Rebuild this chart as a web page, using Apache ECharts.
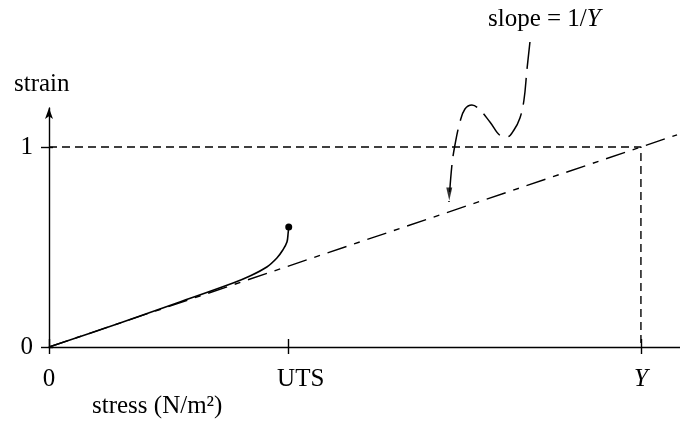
<!DOCTYPE html>
<html>
<head>
<meta charset="utf-8">
<script src="https://cdn.jsdelivr.net/npm/echarts@6/dist/echarts.min.js"></script>
<style>html,body{margin:0;padding:0;background:#fff}#c{width:680px;height:425px}</style>
</head>
<body>
<div id="c"></div>
<script>
// Tick positions (stress in units of Y, strain dimensionless)
const stressTickValues = [0, 0.405, 1];
const stressTickLabels = ['0', 'UTS', 'Y'];
const strainTickValues = [0, 1];
const strainTickLabels = ['0', '1'];

// Measured stress-strain curve (solid), ends at UTS point
const curveStress = [0, 0.12, 0.221, 0.311, 0.3395, 0.368, 0.385, 0.395, 0.402, 0.404, 0.405];
const curveStrain = [0, 0.12, 0.225, 0.32, 0.355, 0.40, 0.445, 0.485, 0.525, 0.57, 0.60];

// Linear elastic line, slope = 1/Y (dash-dot)
const elasticStress = [0, 1.061];
const elasticStrain = [0, 1.061];

// Reference dashed lines: strain = 1 up to stress = Y, then down to axis
const refStress = [0, 1, 1];
const refStrain = [1, 1, 0];

// Annotation leader path ("slope = 1/Y" -> elastic line)
const noteStress = [0.8125, 0.8074, 0.8024, 0.7956, 0.7855, 0.7736, 0.7635, 0.7449, 0.728, 0.7145, 0.7027, 0.6943, 0.6858, 0.6807, 0.6757];
const noteStrain = [1.525, 1.385, 1.235, 1.145, 1.085, 1.05, 1.055, 1.125, 1.185, 1.21, 1.19, 1.125, 1.01, 0.91, 0.725];
const arrowPoint = [0.6762, 0.765];

const FONT = 'Liberation Serif';
const zip = (a, b) => a.map((v, i) => [v, b[i]]);

const curveData = zip(curveStress, curveStrain).map((p, i, arr) =>
  i === arr.length - 1 ? { value: p, symbol: 'circle', symbolSize: 7 } : { value: p, symbol: 'none' });

const chart = echarts.init(document.getElementById('c'));
chart.setOption({
  animation: false,
  backgroundColor: '#fff',
  title: [
    { text: 'strain', left: 14, top: 72, padding: 0, textStyle: { fontFamily: FONT, fontSize: 25, fontWeight: 'normal', color: '#000' } },
    { text: 'stress (N/m²)', left: 92, top: 394, padding: 0, textStyle: { fontFamily: FONT, fontSize: 25, fontWeight: 'normal', color: '#000' } },
    { text: 'slope = 1/{i|Y}', left: 488, top: 7, padding: 0, textStyle: { fontFamily: FONT, fontSize: 25, fontWeight: 'normal', color: '#000',
      rich: { i: { fontFamily: FONT, fontSize: 25, fontStyle: 'italic', color: '#000' } } } }
  ],
  grid: { left: 49, right: 0, top: 108, bottom: 78 },
  xAxis: [
    {
      type: 'value', min: 0, max: 1.066, splitLine: { show: false },
      axisLine: { show: true, onZero: false, lineStyle: { color: '#000', width: 1.4 } },
      axisTick: { show: true, length: 7, customValues: stressTickValues, lineStyle: { color: '#000', width: 1.4 } },
      axisLabel: {
        show: true, margin: 20, customValues: stressTickValues, color: '#000', fontFamily: FONT, fontSize: 25,
        formatter: v => {
          const i = stressTickValues.indexOf(v);
          const t = stressTickLabels[i];
          if (t === 'Y') return '{i|Y}';
          if (t === 'UTS') return '{u|UTS}';
          return t;
        },
        rich: {
          i: { fontFamily: FONT, fontSize: 25, fontStyle: 'italic', color: '#000' },
          u: { fontFamily: FONT, fontSize: 25, color: '#000', padding: [0, 0, 0, 24] }
        }
      }
    },
    {
      type: 'value', min: 0, max: 1.066, position: 'bottom', splitLine: { show: false },
      axisLine: { show: false },
      axisTick: { show: true, inside: true, length: 8, customValues: stressTickValues, lineStyle: { color: '#000', width: 1.4 } },
      axisLabel: { show: false }
    }
  ],
  yAxis: [
    {
      type: 'value', min: 0, max: 1.195, splitLine: { show: false },
      axisLine: { show: true, onZero: false, symbol: ['none', 'arrow'], symbolSize: [6, 11], lineStyle: { color: '#000', width: 1.4 } },
      axisTick: { show: true, length: 8, customValues: strainTickValues, lineStyle: { color: '#000', width: 1.4 } },
      axisLabel: {
        show: true, margin: 16, customValues: strainTickValues, color: '#000', fontFamily: FONT, fontSize: 25,
        formatter: v => strainTickLabels[strainTickValues.indexOf(v)]
      }
    },
    {
      type: 'value', min: 0, max: 1.195, position: 'left', splitLine: { show: false },
      axisLine: { show: false },
      axisTick: { show: true, inside: true, length: 4, customValues: strainTickValues, lineStyle: { color: '#000', width: 1.4 } },
      axisLabel: { show: false }
    }
  ],
  series: [
    {
      type: 'line', data: zip(refStress, refStrain), symbol: 'none', silent: true,
      lineStyle: { color: '#000', width: 1.4, type: [8, 5] }
    },
    {
      type: 'line', data: zip(elasticStress, elasticStrain), symbol: 'none', silent: true,
      lineStyle: { color: '#000', width: 1.4, type: [20, 8, 6, 8] }
    },
    {
      type: 'line', data: curveData, smooth: 0.35, silent: true, z: 5,
      itemStyle: { color: '#000' },
      lineStyle: { color: '#000', width: 1.6 }
    },
    {
      type: 'line', data: zip(noteStress, noteStrain), smooth: 0.4, symbol: 'none', clip: false, silent: true,
      lineStyle: { color: '#000', width: 1.5, type: [27, 9] }
    },
    {
      type: 'scatter', data: [arrowPoint], symbol: 'triangle', symbolSize: [6, 13], symbolRotate: 180, silent: true,
      itemStyle: { color: '#000' }
    }
  ]
});
</script>
</body>
</html>
